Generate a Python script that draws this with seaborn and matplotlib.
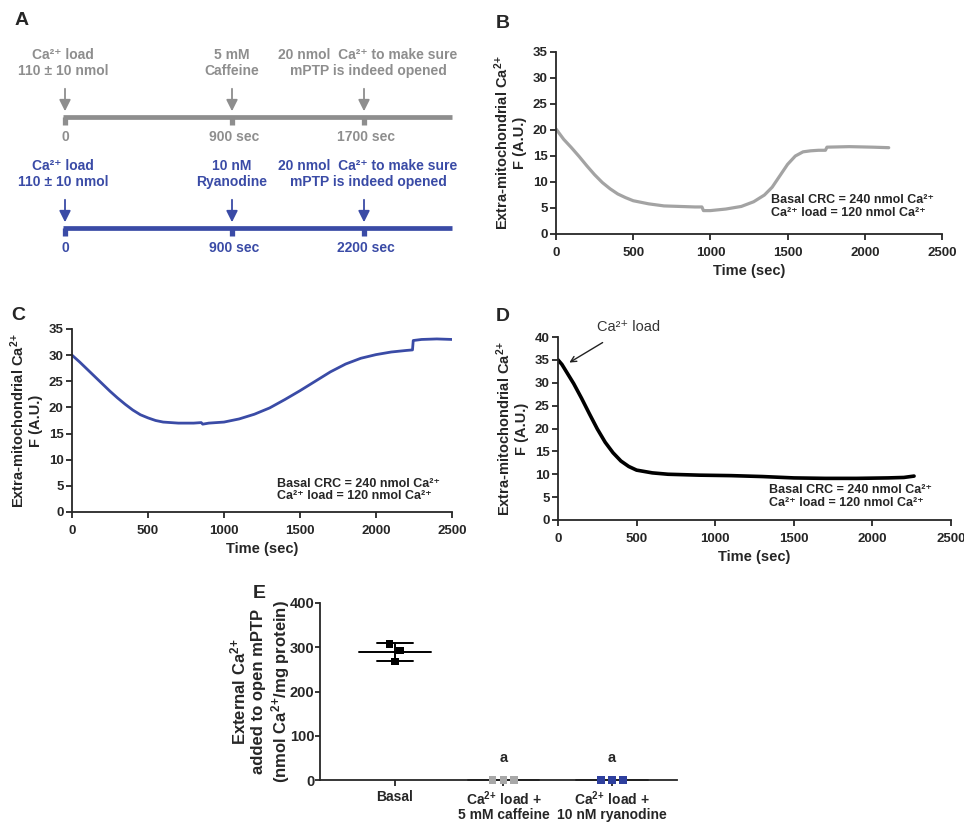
import numpy as np
import pandas as pd
import seaborn as sns
import matplotlib.pyplot as plt

sns.set_style('ticks')
plt.rcParams['font.family'] = ['Liberation Sans', 'DejaVu Sans']
plt.rcParams['font.weight'] = 'bold'
plt.rcParams['axes.labelweight'] = 'bold'
plt.rcParams['mathtext.fontset'] = 'custom'
plt.rcParams['mathtext.rm'] = 'Liberation Sans'
plt.rcParams['mathtext.bf'] = 'Liberation Sans:bold'
plt.rcParams['mathtext.default'] = 'bf'

GRAY_A = '#8e8e8e'
GRAY_LINE = '#a3a3a3'
BLUE = '#3a4ba6'
CA = 'Ca$^{2}$$^{+}$'  # large superscript as in the axis titles

# panel A: timeline protocol
gray_events = ['Ca²⁺ load\n110 ± 10 nmol', '5 mM\nCaffeine', '20 nmol  Ca²⁺ to make sure\nmPTP is indeed opened']
gray_times = ['0', '900 sec', '1700 sec']
blue_events = ['Ca²⁺ load\n110 ± 10 nmol', '10 nM\nRyanodine', '20 nmol  Ca²⁺ to make sure\nmPTP is indeed opened']
blue_times = ['0', '900 sec', '2200 sec']

# panel B: caffeine trace (gray)
b_time = [0, 25, 50, 100, 150, 200, 250, 300, 350, 400, 450, 500, 600, 700, 800, 900, 945,
          955, 1000, 1100, 1200, 1280, 1350, 1400, 1450, 1500, 1550, 1600, 1650, 1700, 1745,
          1755, 1900, 2050, 2155]
b_signal = [20.2, 19.2, 18.2, 16.6, 14.9, 13.1, 11.4, 9.9, 8.7, 7.7, 7.0, 6.4, 5.8, 5.4, 5.3, 5.2, 5.2,
            4.5, 4.5, 4.8, 5.3, 6.2, 7.5, 9.0, 11.2, 13.4, 15.0, 15.8, 16.0, 16.1, 16.1,
            16.7, 16.8, 16.7, 16.6]

# panel C: ryanodine trace (blue)
c_time = [0, 50, 100, 150, 200, 250, 300, 350, 400, 450, 500, 550, 600, 700, 800, 850, 860, 900,
          1000, 1100, 1200, 1300, 1400, 1500, 1600, 1700, 1800, 1900, 2000, 2100, 2200, 2240,
          2245, 2300, 2400, 2500]
c_signal = [30.0, 28.7, 27.3, 25.9, 24.5, 23.1, 21.8, 20.6, 19.5, 18.6, 18.0, 17.5, 17.2, 17.0, 17.0, 17.1, 16.8, 17.0,
            17.2, 17.8, 18.7, 19.9, 21.5, 23.2, 25.0, 26.8, 28.3, 29.4, 30.1, 30.6, 30.9, 31.0,
            32.8, 33.0, 33.1, 33.0]

# panel D: Ca2+ load only (black)
d_time = [0, 25, 50, 100, 150, 200, 250, 300, 350, 400, 450, 500, 600, 700, 900, 1100, 1300,
          1500, 1700, 1900, 2100, 2200, 2265]
d_signal = [35.0, 34.0, 32.6, 29.8, 26.6, 23.2, 19.9, 17.0, 14.7, 12.9, 11.7, 10.9, 10.3, 10.0, 9.8, 9.7, 9.5,
            9.2, 9.1, 9.1, 9.2, 9.3, 9.6]

# panel E: CRC values
e_groups = ['Basal', CA + ' load +\n5 mM caffeine', CA + ' load +\n10 nM ryanodine']
e_basal = [308, 293, 268]
e_caffeine = [0, 0, 0]
e_ryanodine = [0, 0, 0]
e_colors = ['black', '#a8a8a8', '#2e3f9e']

crc_text = 'Basal CRC = 240 nmol Ca²⁺\nCa²⁺ load = 120 nmol Ca²⁺'
ylab = 'Extra-mitochondrial ' + CA + '\nF (A.U.)'

fig = plt.figure(figsize=(9.64, 8.23), dpi=100)

# overlay axes in pixel coordinates for panel A and letters
ax0 = fig.add_axes([0, 0, 1, 1])
ax0.set_xlim(0, 964)
ax0.set_ylim(823, 0)
ax0.axis('off')
ax0.patch.set_alpha(0)

for letter, (px, py) in zip('ABCDE', [(22, 20), (503, 23), (18, 315), (503, 316), (259, 593)]):
    ax0.text(px, py, letter, fontsize=14, fontweight='bold', ha='center', va='center')

event_x = [65, 232, 364]
label_x = [63, 232, 368]
for row, (events, times, col) in enumerate([(gray_events, gray_times, GRAY_A),
                                            (blue_events, blue_times, BLUE)]):
    y0 = 117 + row * 111
    ax0.plot([63, 452], [y0, y0], color=col, lw=3.4, solid_capstyle='butt')
    for ex, lx, ev, tm in zip(event_x, label_x, events, times):
        ax0.plot([ex, ex], [y0, y0 + 8], color=col, lw=3.8, solid_capstyle='butt')
        ax0.annotate('', xy=(ex, y0 - 3), xytext=(ex, y0 - 31),
                     arrowprops=dict(arrowstyle='-|>', color=col, lw=1.3, mutation_scale=17))
        ax0.text(lx, y0 - 54, ev, color=col, fontsize=10, fontweight='bold',
                 ha='center', va='center', linespacing=1.25)
        ax0.text(ex + (2 if ex > 100 else 0), y0 + 20, tm, color=col, fontsize=10,
                 fontweight='bold', ha='center', va='center')


def trace_panel(rect, t, s, color, lw, ymax, text_xy):
    ax = fig.add_axes(rect)
    df = pd.DataFrame({'time': t, 'signal': s})
    sns.lineplot(data=df, x='time', y='signal', color=color, lw=lw, ax=ax,
                 estimator=None, sort=False)
    ax.set_xlim(0, 2500)
    ax.set_ylim(0, ymax)
    ax.set_xticks(range(0, 2501, 500))
    ax.set_yticks(range(0, ymax + 1, 5))
    ax.set_xlabel('Time (sec)', fontsize=10.5, labelpad=4)
    ax.set_ylabel(ylab, fontsize=10.5, labelpad=4)
    ax.tick_params(direction='out', length=4, width=1.3, labelsize=9.5, pad=2)
    ax.tick_params(axis='x', pad=5)
    for sp in ['left', 'bottom']:
        ax.spines[sp].set_linewidth(1.3)
    sns.despine(ax=ax)
    ax.text(text_xy[0], text_xy[1], crc_text, fontsize=9, fontweight='bold',
            ha='left', va='center', linespacing=1.1)
    return ax


axB = trace_panel([556 / 964, 1 - 234 / 823, 386 / 964, 182 / 823],
                  b_time, b_signal, GRAY_LINE, 2.3, 35, (1392, 5.3))
axC = trace_panel([72 / 964, 1 - 512 / 823, 380 / 964, 183 / 823],
                  c_time, c_signal, BLUE, 2.0, 35, (1349, 4.2))
axD = trace_panel([558 / 964, 1 - 520 / 823, 393 / 964, 183 / 823],
                  d_time, d_signal, 'black', 2.6, 40, (1342, 5.1))
axD.annotate('', xy=(57, 34.1), xytext=(299, 39.1),
             arrowprops=dict(arrowstyle='->', color='#222222', lw=1.0))
axD.text(452, 42.2, 'Ca²⁺ load', fontsize=10.5, fontweight='normal',
         color='#333333', ha='center', va='center')

# panel E
axE = fig.add_axes([320 / 964, 1 - 780 / 823, 357 / 964, 177 / 823])
e_vals = [e_basal, e_caffeine, e_ryanodine]
e_offsets = [[-0.05, 0.046, 0.0], [-0.1, 0.0, 0.1], [-0.1, 0.0, 0.1]]
rows = []
for i, (vals, offs) in enumerate(zip(e_vals, e_offsets)):
    for v, o in zip(vals, offs):
        rows.append({'pos': i + o, 'value': v, 'group': i})
edf = pd.DataFrame(rows)
for i, vals in enumerate(e_vals):
    m = np.mean(vals)
    sd = np.std(vals, ddof=1)
    axE.plot([i - 0.33, i + 0.33], [m, m], color='black', lw=1.4, zorder=2, clip_on=False)
    if sd > 0:
        axE.plot([i, i], [m - sd, m + sd], color='black', lw=1.4, zorder=2)
        axE.plot([i - 0.165, i + 0.165], [m + sd, m + sd], color='black', lw=1.4, zorder=2)
        axE.plot([i - 0.165, i + 0.165], [m - sd, m - sd], color='black', lw=1.4, zorder=2)
sns.scatterplot(data=edf, x='pos', y='value', hue='group', palette=e_colors, marker='s',
                s=30, edgecolor='none', legend=False, ax=axE, zorder=5, clip_on=False)
for i in [1, 2]:
    axE.text(i, 50, 'a', fontsize=10.5, fontweight='bold', ha='center', va='center')
axE.set_xlim(-0.69, 2.6)
axE.set_ylim(0, 400)
axE.set_yticks(range(0, 401, 100))
axE.set_xticks(range(len(e_groups)))
axE.set_xticklabels(e_groups, linespacing=1.0)
axE.set_xlabel('')
axE.set_ylabel('External ' + CA + '\nadded to open mPTP\n(nmol ' + CA + '/mg protein)',
               fontsize=12, linespacing=1.2)
axE.yaxis.set_label_coords(-0.078, 0.5)
axE.tick_params(direction='out', length=3.5, width=1.3, labelsize=10.5, pad=0.5)
axE.tick_params(axis='x', pad=3, labelsize=10, length=4)
for sp in ['left', 'bottom']:
    axE.spines[sp].set_linewidth(1.3)
sns.despine(ax=axE)

fig.savefig('out.png', dpi=100)
